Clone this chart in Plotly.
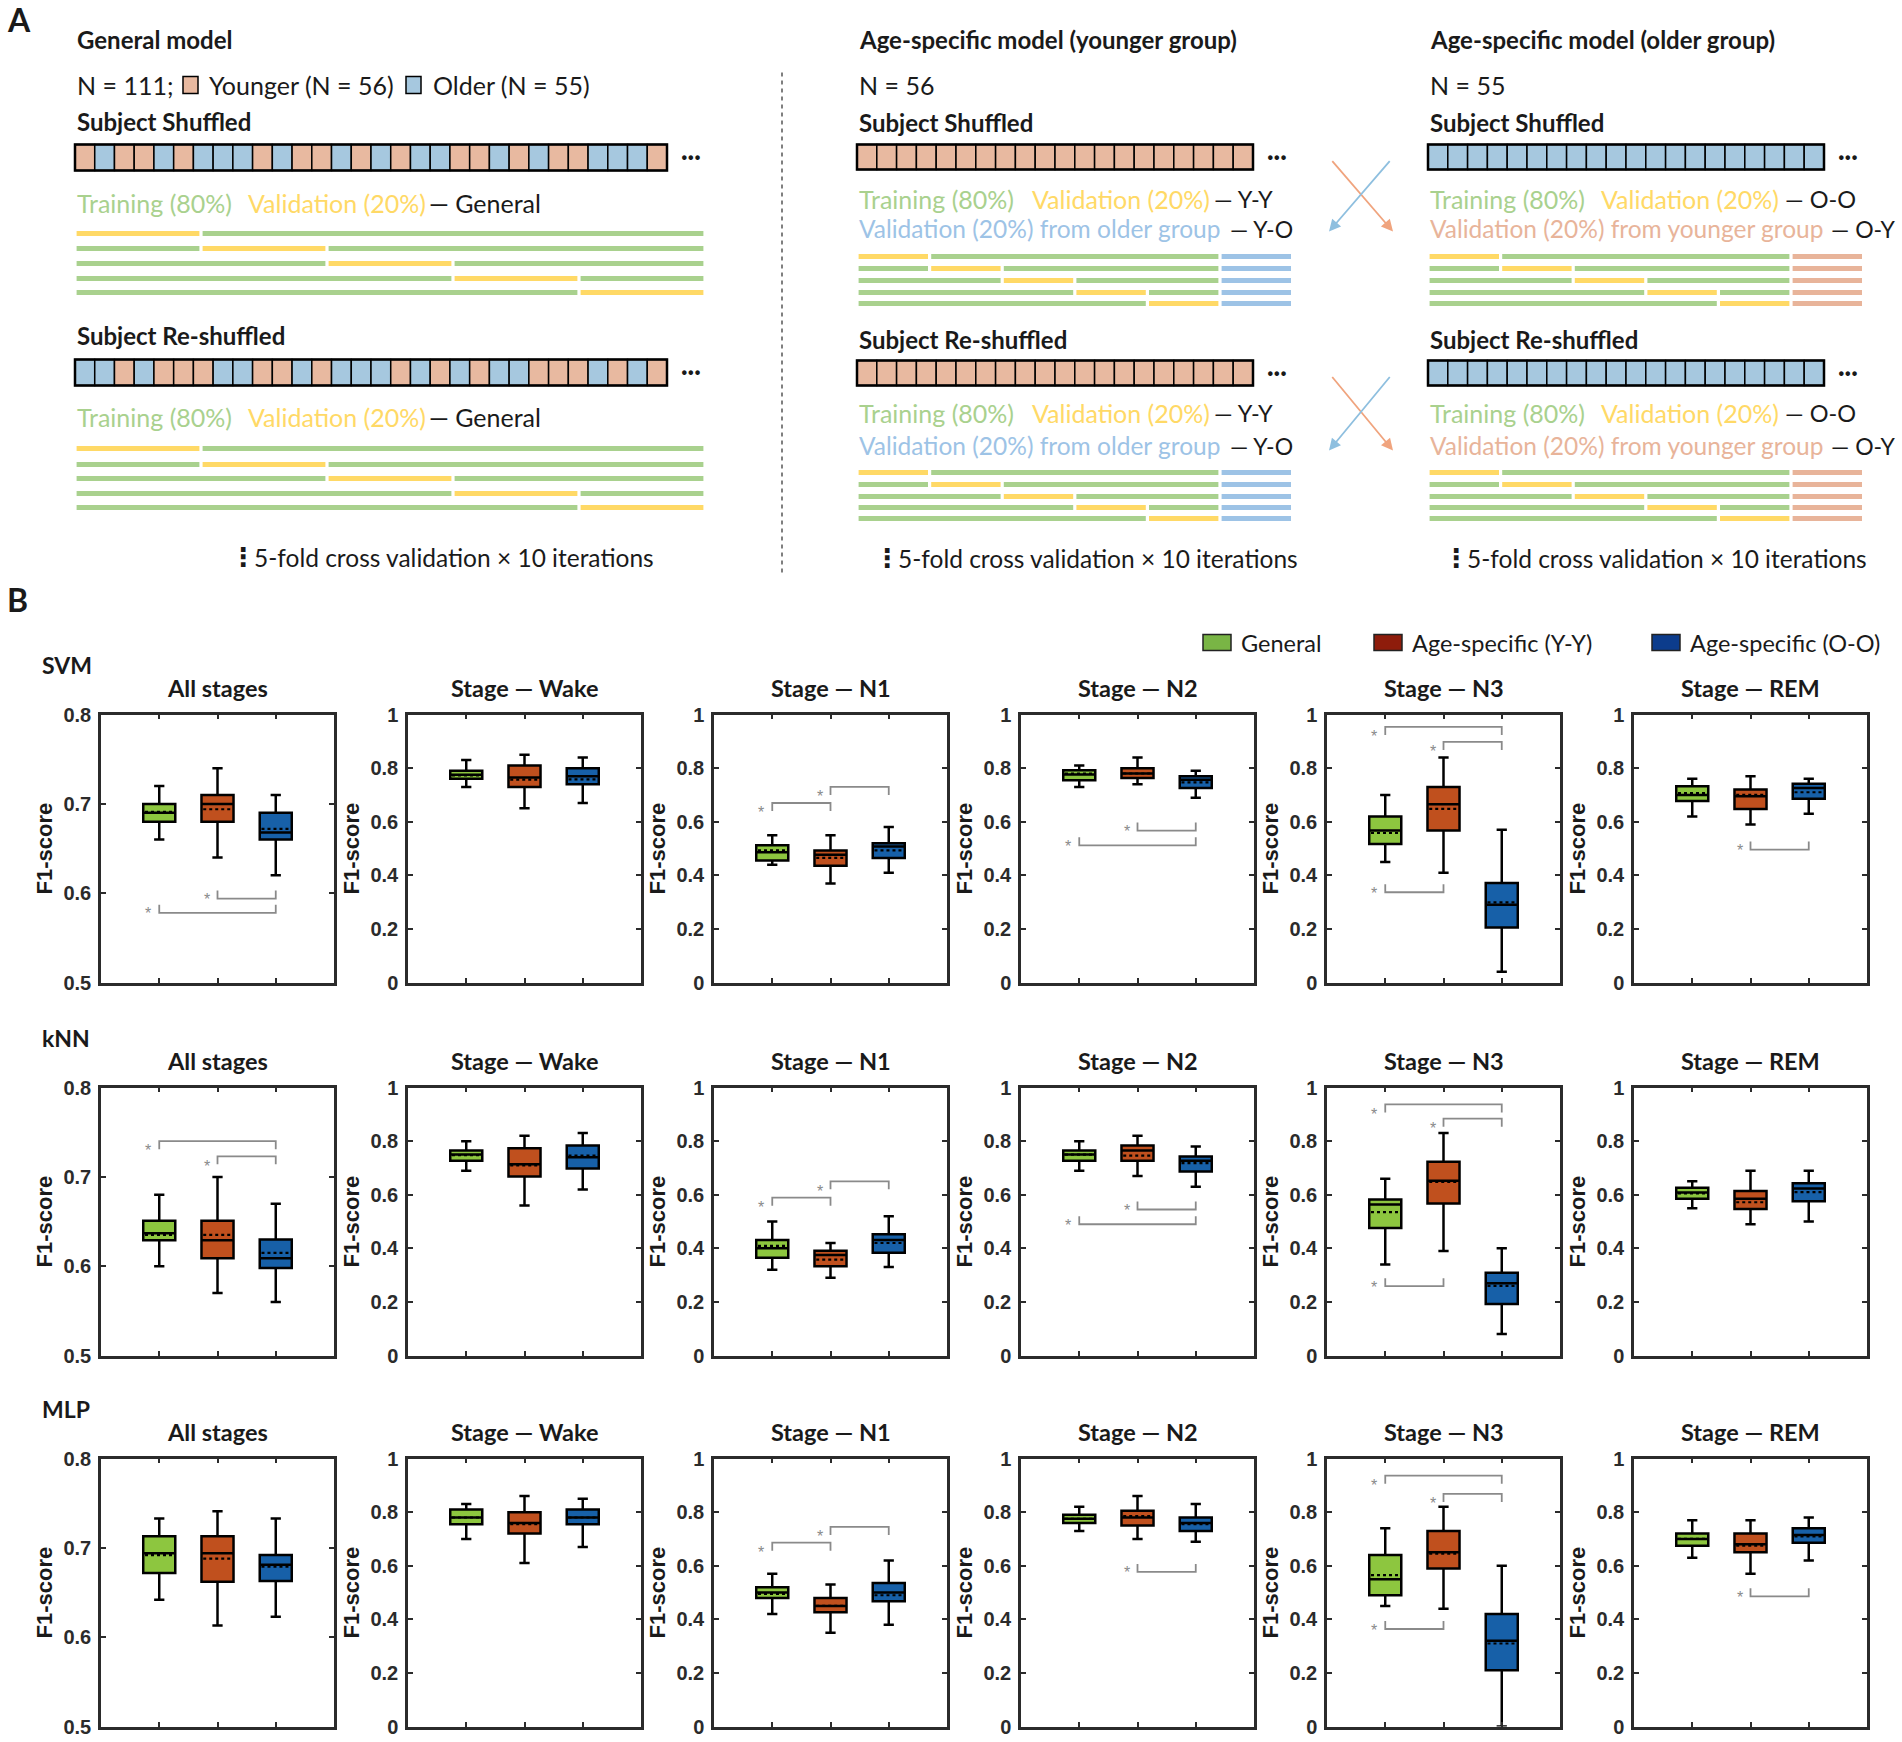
import plotly.graph_objects as go

W, H = 1902, 1742
# the captured page comes out slightly squeezed vertically; positions below are
# given in picture pixels and mapped to page pixels with this
Y_OFF, Y_SCALE = 11.6, 1.0128


def page_y(t):
    return Y_SCALE * t - Y_OFF


# ---------------- panel B data ----------------
models = ["SVM", "kNN", "MLP"]
stages = ["All stages", "Stage — Wake", "Stage — N1", "Stage — N2", "Stage — N3", "Stage — REM"]
groups = ["General", "Age-specific (Y-Y)", "Age-specific (O-O)"]

# one row per stage, values for General, Y-Y, O-O
svm_lo = [[0.66, 0.64, 0.62], [0.73, 0.65, 0.67], [0.44, 0.37, 0.41], [0.73, 0.74, 0.69], [0.45, 0.41, 0.04], [0.62, 0.59, 0.63]]
svm_q1 = [[0.68, 0.68, 0.66], [0.76, 0.73, 0.74], [0.455, 0.436, 0.465], [0.755, 0.763, 0.726], [0.517, 0.567, 0.205], [0.677, 0.648, 0.686]]
svm_med = [[0.69, 0.70, 0.668], [0.775, 0.765, 0.77], [0.486, 0.477, 0.508], [0.776, 0.78, 0.757], [0.567, 0.665, 0.29], [0.70, 0.695, 0.726]]
svm_mean = [[0.691, 0.694, 0.672], [0.773, 0.757, 0.758], [0.493, 0.465, 0.493], [0.78, 0.78, 0.747], [0.558, 0.648, 0.299], [0.707, 0.70, 0.71]]
svm_q3 = [[0.70, 0.71, 0.69], [0.79, 0.81, 0.80], [0.512, 0.493, 0.52], [0.792, 0.80, 0.77], [0.62, 0.73, 0.371], [0.732, 0.72, 0.742]]
svm_hi = [[0.72, 0.74, 0.71], [0.83, 0.85, 0.84], [0.55, 0.55, 0.58], [0.81, 0.84, 0.79], [0.70, 0.84, 0.57], [0.76, 0.77, 0.76]]

knn_lo = [[0.60, 0.57, 0.56], [0.69, 0.56, 0.62], [0.32, 0.29, 0.33], [0.69, 0.67, 0.63], [0.34, 0.39, 0.08], [0.55, 0.49, 0.50]]
knn_q1 = [[0.629, 0.609, 0.598], [0.727, 0.668, 0.698], [0.365, 0.333, 0.384], [0.727, 0.727, 0.687], [0.476, 0.567, 0.192], [0.585, 0.547, 0.576]]
knn_med = [[0.637, 0.629, 0.609], [0.75, 0.714, 0.74], [0.40, 0.375, 0.431], [0.75, 0.765, 0.727], [0.564, 0.652, 0.27], [0.608, 0.585, 0.623]]
knn_mean = [[0.635, 0.635, 0.615], [0.748, 0.71, 0.746], [0.409, 0.358, 0.42], [0.75, 0.746, 0.718], [0.535, 0.648, 0.26], [0.605, 0.572, 0.61]]
knn_q3 = [[0.651, 0.651, 0.63], [0.765, 0.774, 0.784], [0.431, 0.391, 0.453], [0.765, 0.784, 0.743], [0.582, 0.723, 0.309], [0.626, 0.614, 0.643]]
knn_hi = [[0.68, 0.70, 0.67], [0.80, 0.82, 0.83], [0.50, 0.42, 0.52], [0.80, 0.82, 0.78], [0.66, 0.83, 0.40], [0.65, 0.69, 0.69]]

mlp_lo = [[0.642, 0.613, 0.623], [0.70, 0.61, 0.67], [0.42, 0.35, 0.38], [0.73, 0.70, 0.69], [0.45, 0.44, 0.0], [0.63, 0.57, 0.62]]
mlp_q1 = [[0.672, 0.662, 0.663], [0.755, 0.72, 0.755], [0.48, 0.427, 0.468], [0.76, 0.75, 0.73], [0.49, 0.59, 0.21], [0.675, 0.65, 0.686]]
mlp_med = [[0.694, 0.694, 0.681], [0.78, 0.76, 0.78], [0.50, 0.45, 0.50], [0.775, 0.78, 0.76], [0.55, 0.65, 0.32], [0.70, 0.68, 0.715]]
mlp_mean = [[0.692, 0.688, 0.679], [0.78, 0.755, 0.78], [0.495, 0.45, 0.49], [0.775, 0.785, 0.755], [0.565, 0.645, 0.31], [0.70, 0.675, 0.71]]
mlp_q3 = [[0.713, 0.713, 0.692], [0.81, 0.80, 0.81], [0.52, 0.48, 0.536], [0.79, 0.805, 0.78], [0.64, 0.73, 0.42], [0.72, 0.72, 0.74]]
mlp_hi = [[0.733, 0.741, 0.733], [0.83, 0.86, 0.85], [0.57, 0.53, 0.62], [0.82, 0.86, 0.83], [0.74, 0.82, 0.60], [0.77, 0.77, 0.78]]

stats = {
    "SVM": dict(lo=svm_lo, q1=svm_q1, med=svm_med, mean=svm_mean, q3=svm_q3, hi=svm_hi),
    "kNN": dict(lo=knn_lo, q1=knn_q1, med=knn_med, mean=knn_mean, q3=knn_q3, hi=knn_hi),
    "MLP": dict(lo=mlp_lo, q1=mlp_q1, med=mlp_med, mean=mlp_mean, q3=mlp_q3, hi=mlp_hi),
}

# significance brackets: model, stage, group from, group to, bar level, side of the ticks
sig_pairs = [
    ("SVM", 0, 2, 3, 0.594, "low"), ("SVM", 0, 1, 3, 0.578, "low"),
    ("SVM", 2, 1, 2, 0.67, "high"), ("SVM", 2, 2, 3, 0.73, "high"),
    ("SVM", 3, 2, 3, 0.567, "low"), ("SVM", 3, 1, 3, 0.512, "low"),
    ("SVM", 4, 1, 3, 0.954, "high"), ("SVM", 4, 2, 3, 0.898, "high"), ("SVM", 4, 1, 2, 0.337, "low"),
    ("SVM", 5, 2, 3, 0.496, "low"),
    ("kNN", 0, 1, 3, 0.74, "high"), ("kNN", 0, 2, 3, 0.723, "high"),
    ("kNN", 2, 1, 2, 0.589, "high"), ("kNN", 2, 2, 3, 0.65, "high"),
    ("kNN", 3, 2, 3, 0.545, "low"), ("kNN", 3, 1, 3, 0.49, "low"),
    ("kNN", 4, 1, 3, 0.937, "high"), ("kNN", 4, 2, 3, 0.884, "high"), ("kNN", 4, 1, 2, 0.259, "low"),
    ("MLP", 2, 1, 2, 0.686, "high"), ("MLP", 2, 2, 3, 0.745, "high"),
    ("MLP", 3, 2, 3, 0.577, "low"),
    ("MLP", 4, 1, 3, 0.936, "high"), ("MLP", 4, 2, 3, 0.868, "high"), ("MLP", 4, 1, 2, 0.364, "low"),
    ("MLP", 5, 2, 3, 0.486, "low"),
]

# ---------------- panel A data ----------------
shuffle_1 = "YOYYOYOOOYOYYOYOYOOYYOYOYYOOOY"
shuffle_2 = "OOYOYYYOOYYOYOOOYOYOYOOYYYOYOY"
n_age_cells = 20
n_folds = 5

box_fill = ["#8DC63F", "#C0501E", "#1760A8"]
legend_fill = ["#79B545", "#8E1C0B", "#0C3C8C"]
cell_col = {"Y": "#E8B9A0", "O": "#A6C8DF"}
c_train, c_val, c_old, c_young = "#A9D18E", "#FFD966", "#9DC3E6", "#E8B49A"
ink = "#1a1a1a"

fig = go.Figure()
shapes, annotations = [], []
layout_axes = {}

# picture pixel positions of the box-plot frames
col_left = [101, 408, 714, 1021, 1327, 1634]
row_top = [715, 1088, 1459]
pw, ph = 233, 268
box_w = 0.55


def txt(x, y, text, size=25, color=ink, bold=False, xanchor="left", family="Lato", yshift=0):
    annotations.append(dict(
        x=x, y=y, xref="x19", yref="y19", showarrow=False, xanchor=xanchor, yanchor="middle",
        text=f"<b>{text}</b>" if bold else text, yshift=yshift,
        font=dict(family=family, size=size, color=color)))


for r, m in enumerate(models):
    s = stats[m]
    for c, st in enumerate(stages):
        k = r * 6 + c + 1
        xl, yt = col_left[c], row_top[r]
        yr = [0.5, 0.8] if c == 0 else [0, 1]
        tv = [0.5, 0.6, 0.7, 0.8] if c == 0 else [0, 0.2, 0.4, 0.6, 0.8, 1]
        axis_common = dict(showline=True, linewidth=2.5, linecolor="#2b2b2b", mirror="ticks",
                           ticks="inside", ticklen=5, tickwidth=2, tickcolor="#2b2b2b",
                           showgrid=False, zeroline=False, fixedrange=True)
        layout_axes[f"xaxis{k}"] = dict(axis_common, domain=[xl / W, (xl + pw) / W], range=[0, 4],
                                        tickvals=[1, 2, 3], showticklabels=False, anchor=f"y{k}")
        layout_axes[f"yaxis{k}"] = dict(axis_common,
                                        domain=[1 - page_y(yt + ph) / H, 1 - page_y(yt) / H], range=yr,
                                        tickvals=tv, anchor=f"x{k}", ticklabelstandoff=3,
                                        tickfont=dict(family="Liberation Sans", size=20, color="#2b2b2b", weight="bold"),
                                        title=dict(text="<b>F1-score</b>", standoff=5,
                                                   font=dict(family="Liberation Sans", size=22, color="#1a1a1a")))
        for g in range(3):
            fig.add_trace(go.Box(
                x=[g + 1], q1=[s["q1"][c][g]], median=[s["med"][c][g]], q3=[s["q3"][c][g]],
                lowerfence=[s["lo"][c][g]], upperfence=[s["hi"][c][g]],
                width=box_w, whiskerwidth=0.32, fillcolor=box_fill[g],
                line=dict(color="black", width=2.5), name=groups[g], showlegend=False,
                xaxis=f"x{k}", yaxis=f"y{k}"))
            # dotted mean line across the box
            fig.add_trace(go.Scatter(
                x=[g + 1 - box_w / 2 + 0.03, g + 1 + box_w / 2 - 0.03], y=[s["mean"][c][g]] * 2,
                mode="lines", line=dict(color="black", width=2.2, dash="dot"),
                showlegend=False, hoverinfo="skip", xaxis=f"x{k}", yaxis=f"y{k}"))
        txt(xl + pw / 2, yt - 27, st, size=23.5, bold=True, xanchor="center")
    txt(40, row_top[r] - 50, m, size=23, bold=True)

for m, c, g1, g2, yb, side in sig_pairs:
    r = models.index(m)
    k = r * 6 + c + 1
    span = 0.3 if c == 0 else 1.0
    t = 8 / ph * span
    if side == "low":
        ys = [yb + t, yb, yb, yb + t]
        ystar = yb + t / 2
    else:
        ys = [yb - t, yb, yb, yb - t]
        ystar = yb - t * 0.6
    fig.add_trace(go.Scatter(x=[g1, g1, g2, g2], y=ys, mode="lines",
                             line=dict(color="#8a8a8a", width=1.8), showlegend=False,
                             hoverinfo="skip", xaxis=f"x{k}", yaxis=f"y{k}"))
    annotations.append(dict(x=g1, y=ystar, xref=f"x{k}", yref=f"y{k}", text="*", showarrow=False,
                            xshift=-11, yshift=-5, font=dict(family="Liberation Sans", size=16, color="#8a8a8a")))

# legend of panel B
leg_x = [1203, 1374, 1652]
for g in range(3):
    shapes.append(dict(type="rect", xref="x19", yref="y19", x0=leg_x[g], x1=leg_x[g] + 28, y0=635, y1=651,
                       fillcolor=legend_fill[g], line=dict(color="#222", width=1.5)))
    txt(leg_x[g] + 36, 643, groups[g], size=23.5)

# ---------------- panel A ----------------
# overlay axis in picture pixels
fig.add_trace(go.Scatter(x=[None], y=[None], xaxis="x19", yaxis="y19", showlegend=False, hoverinfo="skip"))
layout_axes["xaxis19"] = dict(domain=[0, 1], range=[0, W], visible=False, anchor="y19", fixedrange=True)
layout_axes["yaxis19"] = dict(domain=[0, 1], range=[(H + Y_OFF) / Y_SCALE, Y_OFF / Y_SCALE],
                              visible=False, anchor="x19", fixedrange=True)


def strip(x0, y0, pattern, cw, ch=26):
    for i, p in enumerate(pattern):
        shapes.append(dict(type="rect", xref="x19", yref="y19", x0=x0 + i * cw, x1=x0 + (i + 1) * cw,
                           y0=y0, y1=y0 + ch, fillcolor=cell_col[p], line=dict(color="black", width=1.5)))
    shapes.append(dict(type="rect", xref="x19", yref="y19", x0=x0, x1=x0 + len(pattern) * cw,
                       y0=y0, y1=y0 + ch, line=dict(color="black", width=2.5)))
    txt(x0 + len(pattern) * cw + 12, y0 + ch / 2 - 2, "<b>···</b>", size=24)


def folds(x0, seg, ys, extra=None, thick=5, gap=1.6):
    for i, y in enumerate(ys):
        pieces = []
        if i > 0:
            pieces.append((0, i, c_train))
        pieces.append((i, i + 1, c_val))
        if i + 1 < n_folds:
            pieces.append((i + 1, n_folds, c_train))
        if extra:
            pieces.append((n_folds, n_folds + 1, extra))
        for a, b, col in pieces:
            shapes.append(dict(type="rect", xref="x19", yref="y19", x0=x0 + a * seg + gap, x1=x0 + b * seg - gap,
                               y0=y - thick / 2, y1=y + thick / 2, fillcolor=col, line=dict(width=0)))


def cv_note(x_dots, y):
    txt(x_dots, y - 1, "<b>⋮</b>", size=26, family="DejaVu Sans", xanchor="center")
    txt(x_dots + 9, y, "5-fold cross validation × 10 iterations", size=24.5)


txt(5, 20, "A", size=32, bold=True)
txt(5, 600, "B", size=32, bold=True)

# general model
txt(75, 40, "General model", size=24, bold=True)
txt(75, 85, "N = 111;")
shapes.append(dict(type="rect", xref="x19", yref="y19", x0=183, x1=198, y0=77, y1=94,
                   fillcolor=cell_col["Y"], line=dict(color="black", width=1.5)))
txt(207, 85, "Younger (N = 56)")
shapes.append(dict(type="rect", xref="x19", yref="y19", x0=406, x1=421, y0=77, y1=94,
                   fillcolor=cell_col["O"], line=dict(color="black", width=1.5)))
txt(431, 85, "Older (N = 55)")
for yh, ys, yt_, ybars, pat, lab in [(122, 145, 203, [234, 249, 264, 279, 293], shuffle_1, "Subject Shuffled"),
                                     (336, 360, 417, [449, 465, 479, 494, 508], shuffle_2, "Subject Re-shuffled")]:
    txt(75, yh, lab, size=24, bold=True)
    strip(75, ys, pat, 592 / len(pat))
    txt(75, yt_, "Training (80%)", color=c_train)
    txt(246, yt_, "Validation (20%)", color=c_val)
    txt(427, yt_, "— General")
    folds(75, 126, ybars)
cv_note(243, 558)

# dashed separator
shapes.append(dict(type="line", xref="x19", yref="y19", x0=782, x1=782, y0=73, y1=577,
                   line=dict(color="#555", width=1.5, dash="4px,4px")))

# age-specific models
for x0, title, n_lab, grp, other_lab, other_col, tag1, tag2, x_val, x_tag1, x_tag2, x_dots in [
    (857, "Age-specific model (younger group)", "N = 56", "Y", "Validation (20%) from older group", c_old,
     "— Y-Y", "— Y-O", 1030, 1212, 1228, 887),
    (1428, "Age-specific model (older group)", "N = 55", "O", "Validation (20%) from younger group", c_young,
     "— O-O", "— O-Y", 1599, 1783, 1829, 1456),
]:
    txt(x0, 40, title, size=24, bold=True)
    txt(x0, 85, n_lab)
    for yh, ys, yt1, yt2, ybars, lab in [(123, 145, 199, 229, [257, 269, 281, 293, 304], "Subject Shuffled"),
                                         (340, 361, 413, 446, [473, 485, 497, 508, 519], "Subject Re-shuffled")]:
        txt(x0, yh, lab, size=24, bold=True)
        strip(x0, ys, grp * n_age_cells, 19.8, ch=25)
        txt(x0, yt1, "Training (80%)", color=c_train)
        txt(x_val, yt1, "Validation (20%)", color=c_val)
        txt(x_tag1, yt1, tag1, size=23.5)
        txt(x0, yt2, other_lab, color=other_col, size=24.5)
        txt(x_tag2, yt2, tag2, size=23)
        folds(x0, 72.6, ybars, extra=other_col)
    cv_note(x_dots, 559)

# arrows between the age-specific models
for y_tail, y_head in [(160, 232), (376, 451)]:
    annotations.append(dict(x=1393, y=y_head, ax=1331, ay=y_tail, xref="x19", yref="y19", axref="x19", ayref="y19",
                            text="", showarrow=True, arrowhead=2, arrowsize=1.3, arrowwidth=1.8, arrowcolor="#F0A47E"))
    annotations.append(dict(x=1329, y=y_head, ax=1391, ay=y_tail, xref="x19", yref="y19", axref="x19", ayref="y19",
                            text="", showarrow=True, arrowhead=2, arrowsize=1.3, arrowwidth=1.8, arrowcolor="#8EBFDF"))

fig.update_layout(
    width=W, height=H,
    margin=dict(l=0, r=0, t=0, b=0),
    paper_bgcolor="white", plot_bgcolor="rgba(0,0,0,0)",
    showlegend=False,
    shapes=shapes, annotations=annotations,
    font=dict(family="Lato", color=ink),
    **layout_axes,
)

fig.write_html("out.html", config={"displayModeBar": False},
               post_script="document.body.style.margin='0px';")
